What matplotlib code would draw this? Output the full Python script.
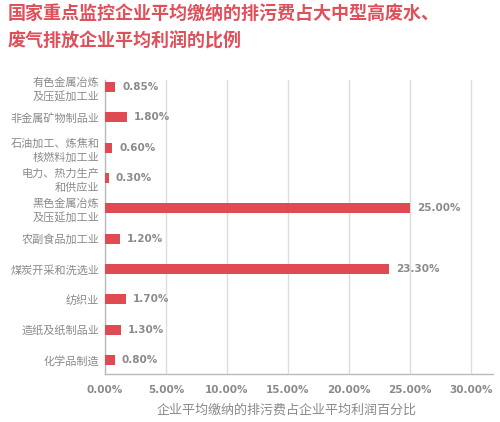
import matplotlib
matplotlib.use("Agg")
import matplotlib.pyplot as plt

plt.rcParams['font.family'] = ['Noto Sans CJK SC', 'DejaVu Sans']

categories = ["有色金属冶炼\n及压延加工业", "非金属矿物制品业", "石油加工、炼焦和\n核燃料加工业",
              "电力、热力生产\n和供应业", "黑色金属冶炼\n及压延加工业", "农副食品加工业",
              "煤炭开采和洗选业", "纺织业", "造纸及纸制品业", "化学品制造"]
values = [0.85, 1.80, 0.60, 0.30, 25.00, 1.20, 23.30, 1.70, 1.30, 0.80]
xticks = [0, 5, 10, 15, 20, 25, 30]
title = "国家重点监控企业平均缴纳的排污费占大中型高废水、\n废气排放企业平均利润的比例"
xlabel = "企业平均缴纳的排污费占企业平均利润百分比"

num_font = ['DejaVu Sans']
num_size = 7.5

W, H = 500, 422
fig = plt.figure(figsize=(W/100, H/100), dpi=100)
ax = fig.add_axes([105/W, 1-374/H, (493-105)/W, (374-80)/H])

bar_color = "#e04a52"
gray = "#8a8a8a"
ypos = list(range(len(categories)))
ax.barh(ypos, values, height=0.33, color=bar_color, zorder=3)
ax.set_ylim(len(categories) - 1 + 0.46, -0.23)
ax.set_xlim(0, 31.8)
ax.set_yticks(ypos)
ax.set_yticklabels(categories, fontsize=8, color=gray, linespacing=1.4)
ax.set_xticks(xticks)
ax.set_xticklabels([f"{t:.2f}%" for t in xticks], fontsize=num_size, color=gray, fontweight='bold',
                   family=num_font)
ax.tick_params(axis='y', length=0, pad=4)
ax.tick_params(axis='x', length=0, pad=8)
ax.grid(axis='x', color="#dddddd", linewidth=1, zorder=0)
for s in ['top', 'right']:
    ax.spines[s].set_visible(False)
for s in ['left', 'bottom']:
    ax.spines[s].set_color("#bbbbbb")
    ax.spines[s].set_linewidth(1)

for y, v in zip(ypos, values):
    ax.text(v + 0.55, y, f"{v:.2f}%", va='center', ha='left', fontsize=num_size, color=gray,
            fontweight='bold', family=num_font)

fig.text(8/W, 1-4/H, title, ha='left', va='top', fontsize=13, fontweight='bold',
         color="#e0505a", linespacing=1.6)
fig.text(287/W, 1-410/H, xlabel, ha='center', va='center', fontsize=9.4, color=gray)

fig.savefig("out.png", dpi=100, facecolor='white')
